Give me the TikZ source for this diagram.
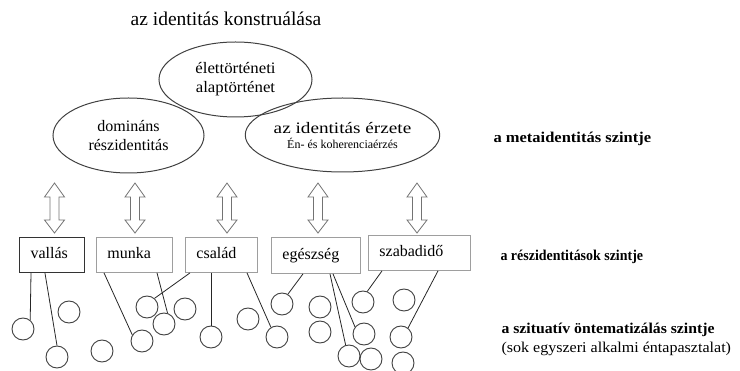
\documentclass[tikz,border=0pt]{standalone}
\usepackage{fontspec}
\setmainfont{Liberation Serif}
\newfontfamily\tms{Liberation Serif}
\usetikzlibrary{shapes.geometric}
\newcommand\dblarr[1]{%
  \draw[arrowst] (#1,183) -- (#1+10,197) -- (#1+4.5,197) -- (#1+4.5,220) -- (#1+10,220)
    -- (#1,233) -- (#1-10,220) -- (#1-4.5,220) -- (#1-4.5,197) -- (#1-10,197) -- cycle;}
\begin{document}
\begin{tikzpicture}[x=1pt,y=-1pt,
  ell/.style={ellipse, draw=black!75, line width=1pt, inner sep=0pt, align=center,
    font=\tms\fontsize{16}{19}\selectfont},
  box/.style={rectangle, draw=black!38, line width=0.9pt, anchor=north west, inner xsep=11pt,
    inner ysep=0pt, minimum height=35pt, align=left, text height=11pt, text depth=3.5pt,
    font=\tms\fontsize{16}{19}\selectfont},
  darkbox/.style={box, draw=black!80, line width=1.2pt},
  circ/.style={circle, draw=black!75, line width=0.9pt, minimum size=22pt, inner sep=0pt},
  conn/.style={draw=black!85, line width=0.8pt},
  arrowst/.style={draw=black!55, line width=0.8pt, fill=white, line join=miter},
  lvl/.style={anchor=base west, font=\tms\fontsize{15}{18}\selectfont\bfseries},
]
\useasboundingbox (0,0) rectangle (740,371);

% title
\node[anchor=base, font=\tms\fontsize{19.5}{22}\selectfont] (title) at (226,26) {az identitás konstruálása};

% ellipses
\node[ell, minimum width=153pt, minimum height=75pt] (elet) at (235.5,79.5)
  {\scalebox{1.05}[1]{élettörténeti}\\\scalebox{1.05}[1]{alaptörténet}};
\node[ell, minimum width=151pt, minimum height=75pt] (dom) at (128.5,135.5) {domináns\\részidentitás};
\node[ell, minimum width=151pt, minimum height=74pt] (erz) at (342.5,135)
  {\scalebox{1.2}[1]{az identitás érzete}\\[-4pt]{\fontsize{12}{14}\selectfont Én- és koherenciaérzés}};

% level labels
\node[lvl] (meta) at (490,143) {\scalebox{1.1}[1]{a metaidentitás szintje}};
\node[lvl] (resz) at (497,261) {\scalebox{0.93}[1]{a részidentitások szintje}};
\node[lvl] (szit) at (498,334) {\scalebox{1.05}[1]{a szituatív öntematizálás szintje}};
\node[anchor=base west, font=\tms\fontsize{15}{18}\selectfont] (sok) at (498,353)
  {\scalebox{1.07}[1]{(sok egyszeri alkalmi éntapasztalat)}};

% double arrows
\dblarr{54.5}
\dblarr{135}
\dblarr{227}
\dblarr{318}
\dblarr{417}

% boxes
\node[darkbox, text width=43pt] (vallas) at (19,237) {vallás};
\node[box, text width=54pt] (munka) at (96,237) {munka};
\node[box, text width=50pt] (csalad) at (185,237) {család};
\node[box, text width=67pt, minimum height=36pt] (egesz) at (271,237) {egészség};
\node[box, text width=80pt] (szabad) at (368,235) {szabadidő};

% circles
\node[circ] (c1) at (23,329) {};
\node[circ] (c2) at (69,312) {};
\node[circ] (c3) at (57,357) {};
\node[circ] (c4) at (102,351) {};
\node[circ] (c5) at (142,341) {};
\node[circ] (c6) at (147,307) {};
\node[circ] (c7) at (164,324) {};
\node[circ] (c8) at (185,309) {};
\node[circ] (c9) at (248,319) {};
\node[circ] (c10) at (211,337) {};
\node[circ] (c11) at (277,337) {};
\node[circ] (c12) at (282,304) {};
\node[circ] (c13) at (320,307) {};
\node[circ] (c14) at (320,332) {};
\node[circ] (c15) at (349,356) {};
\node[circ] (c16) at (364,334) {};
\node[circ] (c17) at (371,359) {};
\node[circ] (c18) at (363,302) {};
\node[circ] (c19) at (404,300) {};
\node[circ] (c20) at (401,337) {};
\node[circ] (c21) at (403,363) {};

% connectors
\draw[conn] ([xshift=12pt]vallas.south west) -- (c1.51);
\draw[conn] ([xshift=26pt]vallas.south west) -- (c3.90);
\draw[conn] ([xshift=8pt]munka.south west) -- (c5.148);
\draw[conn] ([xshift=61pt]munka.south west) -- (c7.72);
\draw[conn] ([xshift=5pt]csalad.south west) -- (c6.49);
\draw[conn] ([xshift=26pt]csalad.south west) -- (c10.90);
\draw[conn] ([xshift=62pt]csalad.south west) -- (c11.122);
\draw[conn] ([xshift=32pt]egesz.south west) -- (c12.59);
\draw[conn] ([xshift=59pt]egesz.south west) -- (c15.107);
\draw[conn] ([xshift=62pt]egesz.south west) -- (c16.142);
\draw[conn] ([xshift=14pt]szabad.south west) -- (c18.68);
\draw[conn] ([xshift=70pt]szabad.south west) -- (c20.52);
\end{tikzpicture}
\end{document}
